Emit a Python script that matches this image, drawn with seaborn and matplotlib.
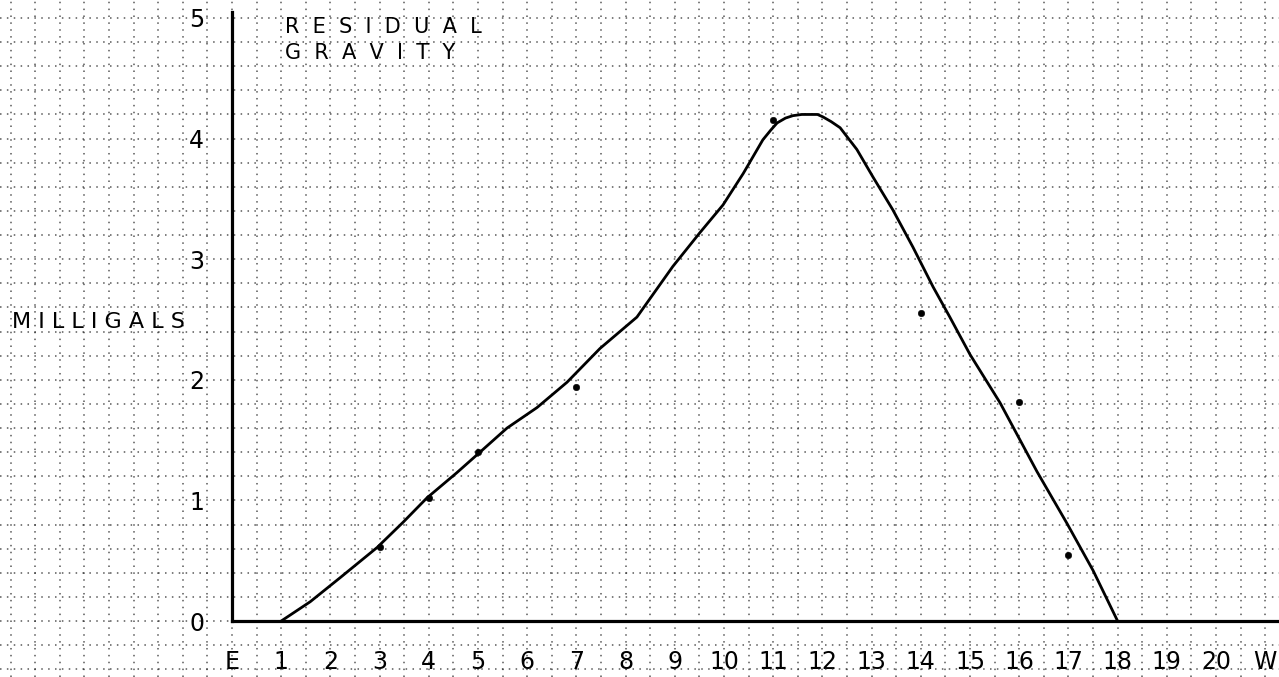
import matplotlib
matplotlib.use("Agg")
import matplotlib.pyplot as plt
from matplotlib.ticker import MultipleLocator
import seaborn as sns
import pandas as pd

# ---- data read from the hand-drawn profile ----
curve_x = [1.0, 1.59, 2.20, 2.95, 3.48, 3.96, 4.57, 5.04, 5.59, 6.20, 6.81, 7.48,
           8.23, 8.96, 9.51, 9.98, 10.39, 10.79, 10.95, 11.08, 11.25, 11.40, 11.58,
           11.75, 11.90, 12.01, 12.18, 12.36, 12.70, 13.03, 13.43, 13.84, 14.25,
           14.59, 15.0, 15.61, 16.36, 16.97, 17.50, 18.0]
curve_y = [0.0, 0.16, 0.36, 0.61, 0.82, 1.02, 1.23, 1.40, 1.60, 1.77, 1.98, 2.26,
           2.52, 2.94, 3.22, 3.45, 3.71, 3.99, 4.07, 4.13, 4.17, 4.19, 4.20,
           4.20, 4.20, 4.18, 4.14, 4.09, 3.91, 3.68, 3.41, 3.10, 2.77,
           2.52, 2.21, 1.81, 1.24, 0.81, 0.42, 0.0]

station_x = [3, 4, 5, 7, 11, 14, 16, 17]
station_y = [0.61, 1.02, 1.40, 1.94, 4.15, 2.55, 1.82, 0.55]

x_ticks = list(range(0, 22))
x_labels = ["E"] + [str(i) for i in range(1, 21)] + ["W"]
y_ticks = [0, 1, 2, 3, 4, 5]
y_labels = ["0", "1", "2", "3", "4", "5"]

title_lines = ["R  E  S  I  D  U  A  L", "G  R  A  V  I  T  Y"]
y_title = "M I L L I G A L S"

# ---- figure ----
sns.set_theme(style="white")
plt.rcParams["font.family"] = ["DejaVu Sans"]

fig = plt.figure(figsize=(12.79, 6.77), dpi=100)
ax = fig.add_axes([0, 0, 1, 1])
fig.patch.set_facecolor("white")
ax.set_facecolor("white")

curve = pd.DataFrame({"x": curve_x, "y": curve_y})
stations = pd.DataFrame({"x": station_x, "y": station_y})

sns.lineplot(data=curve, x="x", y="y", sort=False, estimator=None,
             color="black", linewidth=2.0, ax=ax, zorder=5)
sns.scatterplot(data=stations, x="x", y="y", color="black", s=22,
                edgecolor="black", ax=ax, zorder=6)

ax.set_xlim(-4.715, 21.28)
ax.set_ylim(-0.464, 5.149)

# spines as drawn axes
for side in ["top", "right"]:
    ax.spines[side].set_visible(False)
ax.spines["left"].set_position(("data", 0))
ax.spines["bottom"].set_position(("data", 0))
ax.spines["left"].set_bounds(0, 5.05)
ax.spines["bottom"].set_bounds(0, 21.28)
for side in ["left", "bottom"]:
    ax.spines[side].set_linewidth(2.3)
    ax.spines[side].set_color("black")
    ax.spines[side].set_zorder(7)

ax.set_xticks(x_ticks)
ax.set_xticklabels(x_labels)
ax.set_yticks(y_ticks)
ax.set_yticklabels(y_labels)
ax.xaxis.set_minor_locator(MultipleLocator(0.5))
ax.yaxis.set_minor_locator(MultipleLocator(0.2))
ax.tick_params(axis="x", which="both", length=0, pad=21, labelsize=17, colors="black")
ax.tick_params(axis="y", which="both", length=0, pad=20, labelsize=17, colors="black")
ax.set_xlabel("")
ax.set_ylabel("")

# graph-paper grid
ax.grid(True, which="both", color="#222222", linewidth=1.1,
        linestyle=(0, (1, 3.5)), alpha=0.75)
ax.set_axisbelow(True)

# hand lettering
ax.text(1.08, 4.925, title_lines[0], fontsize=15, ha="left", va="center", color="black")
ax.text(1.08, 4.71, title_lines[1], fontsize=15, ha="left", va="center", color="black")
ax.text(-4.47, 2.48, y_title, fontsize=16, ha="left", va="center", color="black")

fig.savefig("out.png", dpi=100, facecolor="white")
